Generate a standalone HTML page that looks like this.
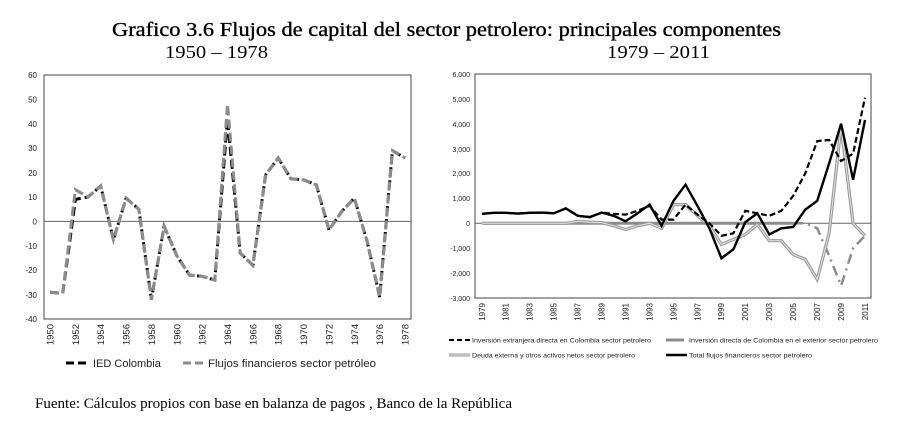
<!DOCTYPE html>
<html><head><meta charset="utf-8"><style>
body{margin:0;background:#fff;width:901px;height:431px;overflow:hidden}
svg{display:block}
.t{font-family:"Liberation Serif",serif}
.s{font-family:"Liberation Sans",sans-serif;fill:#222}
</style></head><body>
<svg width="901" height="431" viewBox="0 0 901 431">
<text class="t" x="112" y="36" font-size="20" textLength="669" lengthAdjust="spacingAndGlyphs" stroke="#000" stroke-width="0.35">Grafico 3.6 Flujos de capital del sector petrolero: principales componentes</text>
<text class="t" x="165" y="58" font-size="18" textLength="103" lengthAdjust="spacingAndGlyphs">1950 – 1978</text>
<text class="t" x="607" y="58" font-size="18" textLength="103" lengthAdjust="spacingAndGlyphs">1979 – 2011</text>

<!-- LEFT CHART -->
<rect x="44" y="75" width="367" height="244" fill="none" stroke="#444" stroke-width="1"/>
<line x1="44" y1="221.4" x2="411" y2="221.4" stroke="#666" stroke-width="1"/>
<g class="s" font-size="8" text-anchor="end">
<text x="37" y="78">60</text><text x="37" y="102.5">50</text><text x="37" y="127">40</text><text x="37" y="151">30</text><text x="37" y="176">20</text><text x="37" y="200">10</text><text x="37" y="224.5">0</text><text x="37" y="249">-10</text><text x="37" y="273">-20</text><text x="37" y="298">-30</text><text x="37" y="322">-40</text>
</g>
<g class="s" font-size="9.5" text-anchor="end">
<text transform="translate(53.5,324) rotate(-90)">1950</text>
<text transform="translate(78.9,324) rotate(-90)">1952</text>
<text transform="translate(104.2,324) rotate(-90)">1954</text>
<text transform="translate(129.6,324) rotate(-90)">1956</text>
<text transform="translate(154.9,324) rotate(-90)">1958</text>
<text transform="translate(180.3,324) rotate(-90)">1960</text>
<text transform="translate(205.7,324) rotate(-90)">1962</text>
<text transform="translate(231,324) rotate(-90)">1964</text>
<text transform="translate(256.4,324) rotate(-90)">1966</text>
<text transform="translate(281.7,324) rotate(-90)">1968</text>
<text transform="translate(307.1,324) rotate(-90)">1970</text>
<text transform="translate(332.5,324) rotate(-90)">1972</text>
<text transform="translate(357.8,324) rotate(-90)">1974</text>
<text transform="translate(383.2,324) rotate(-90)">1976</text>
<text transform="translate(408.5,324) rotate(-90)">1978</text>
</g>
<polyline fill="none" stroke="#000" stroke-width="3" stroke-dasharray="9,4" points="50,292.2 62.7,293.4 75.4,199.4 88,197 100.7,186 113.4,239.7 126.1,198.2 138.8,209.2 151.4,299.5 164.1,226.3 176.8,255.6 189.5,275.1 202.2,276.3 214.8,280 227.5,118.9 240.2,253.1 252.9,265.3 265.6,175 278.2,158 290.9,178.7 303.6,179.9 316.3,184.8 329,229.9 341.6,211.6 354.3,198.2 367,240.9 379.7,297 392.4,150.6 405,158"/>
<polyline fill="none" stroke="#8c8c8c" stroke-width="3" stroke-dasharray="9,4" points="50,292.2 62.7,293.4 75.4,189.7 88,197 100.7,186 113.4,239.7 126.1,198.2 138.8,209.2 151.4,299.5 164.1,226.3 176.8,255.6 189.5,275.1 202.2,276.3 214.8,280 227.5,104.3 240.2,253.1 252.9,265.3 265.6,175 278.2,158 290.9,178.7 303.6,179.9 316.3,184.8 329,229.9 341.6,211.6 354.3,198.2 367,240.9 379.7,297 392.4,150.6 405,158"/>
<line x1="66" y1="363" x2="90" y2="363" stroke="#000" stroke-width="3" stroke-dasharray="8,4"/>
<text class="s" x="93" y="367" font-size="11">IED Colombia</text>
<line x1="183" y1="363" x2="207" y2="363" stroke="#8c8c8c" stroke-width="3" stroke-dasharray="8,4"/>
<text class="s" x="208" y="367" font-size="11" textLength="168" lengthAdjust="spacingAndGlyphs">Flujos financieros sector petróleo</text>

<!-- RIGHT CHART -->
<rect x="475" y="74" width="396" height="224" fill="none" stroke="#444" stroke-width="1"/>
<line x1="475" y1="223.3" x2="871" y2="223.3" stroke="#666" stroke-width="1"/>
<g class="s" font-size="7" text-anchor="end">
<text x="470" y="77">6,000</text><text x="470" y="102">5,000</text><text x="470" y="127">4,000</text><text x="470" y="152">3,000</text><text x="470" y="176">2,000</text><text x="470" y="201">1,000</text><text x="470" y="226">0</text><text x="470" y="251">-1,000</text><text x="470" y="276">-2,000</text><text x="470" y="301">-3,000</text>
</g>
<g class="s" font-size="8" text-anchor="end">
<text transform="translate(484.8,303) rotate(-90)">1979</text>
<text transform="translate(508.7,303) rotate(-90)">1981</text>
<text transform="translate(532.7,303) rotate(-90)">1983</text>
<text transform="translate(556.6,303) rotate(-90)">1985</text>
<text transform="translate(580.6,303) rotate(-90)">1987</text>
<text transform="translate(604.5,303) rotate(-90)">1989</text>
<text transform="translate(628.4,303) rotate(-90)">1991</text>
<text transform="translate(652.4,303) rotate(-90)">1993</text>
<text transform="translate(676.3,303) rotate(-90)">1995</text>
<text transform="translate(700.3,303) rotate(-90)">1997</text>
<text transform="translate(724.2,303) rotate(-90)">1999</text>
<text transform="translate(748.1,303) rotate(-90)">2001</text>
<text transform="translate(772.1,303) rotate(-90)">2003</text>
<text transform="translate(796,303) rotate(-90)">2005</text>
<text transform="translate(820,303) rotate(-90)">2007</text>
<text transform="translate(843.9,303) rotate(-90)">2009</text>
<text transform="translate(867.8,303) rotate(-90)">2011</text>
</g>
<!-- exterior -->
<polyline fill="none" stroke="#8c8c8c" stroke-width="3" points="482,223.3 793.2,223.3"/>
<polyline fill="none" stroke="#8c8c8c" stroke-width="2.5" stroke-dasharray="10,5,2,5" points="793.2,223.3 805.2,223.3 817.2,228.3 829.1,255.7 841.1,285.6 853.1,248.2 865,235.8"/>
<!-- deuda double line -->
<polyline fill="none" stroke="#999" stroke-width="3.2" points="482,223.3 494,223.3 505.9,223.3 517.9,223.3 529.9,223.3 541.9,223.3 553.8,223.3 565.8,223.3 577.8,221.3 589.7,222.1 601.7,222.6 613.7,225.8 625.6,229.5 637.6,225.8 649.6,223.3 661.6,228.3 673.5,204.6 685.5,204.6 697.5,215.8 709.4,225.8 721.4,244.5 733.4,239.5 745.3,234.5 757.3,224.5 769.3,240.7 781.3,240.7 793.2,254.4 805.2,259.4 817.2,279.3 829.1,233.3 841.1,126.2 853.1,223.3 865,235.8"/>
<polyline fill="none" stroke="#e4e4e4" stroke-width="1" points="482,223.3 494,223.3 505.9,223.3 517.9,223.3 529.9,223.3 541.9,223.3 553.8,223.3 565.8,223.3 577.8,221.3 589.7,222.1 601.7,222.6 613.7,225.8 625.6,229.5 637.6,225.8 649.6,223.3 661.6,228.3 673.5,204.6 685.5,204.6 697.5,215.8 709.4,225.8 721.4,244.5 733.4,239.5 745.3,234.5 757.3,224.5 769.3,240.7 781.3,240.7 793.2,254.4 805.2,259.4 817.2,279.3 829.1,233.3 841.1,126.2 853.1,223.3 865,235.8"/>
<!-- IED dashed -->
<polyline fill="none" stroke="#000" stroke-width="2.2" stroke-dasharray="6,3" points="482,213.8 494,212.8 505.9,212.8 517.9,213.6 529.9,212.8 541.9,212.6 553.8,213.3 565.8,208.4 577.8,215.8 589.7,217.1 601.7,212.6 613.7,213.8 625.6,214.6 637.6,210.8 649.6,205.9 661.6,219.6 673.5,219.6 685.5,204.6 697.5,214.6 709.4,223.3 721.4,235.8 733.4,233.3 745.3,210.8 757.3,213.3 769.3,215.8 781.3,210.8 793.2,195.9 805.2,173.5 817.2,141.1 829.1,139.9 841.1,161 853.1,153.6 865,97.6"/>
<!-- total -->
<polyline fill="none" stroke="#000" stroke-width="2.4" points="482,213.8 494,212.8 505.9,212.8 517.9,213.6 529.9,212.8 541.9,212.6 553.8,213.3 565.8,208.4 577.8,215.8 589.7,217.1 601.7,212.6 613.7,215.8 625.6,221.3 637.6,213.3 649.6,204.6 661.6,225.8 673.5,200.9 685.5,184.7 697.5,205.9 709.4,228.3 721.4,258.2 733.4,249.4 745.3,222.1 757.3,213.3 769.3,234.5 781.3,228.3 793.2,227 805.2,209.6 817.2,200.9 829.1,163.5 841.1,123.7 853.1,179.7 865,120"/>
<!-- legend -->
<line x1="449" y1="340" x2="470" y2="340" stroke="#000" stroke-width="2" stroke-dasharray="5,3"/>
<text class="s" x="472" y="342.5" font-size="6.8" textLength="179" lengthAdjust="spacingAndGlyphs">Inversión extranjera directa en Colombia  sector petrolero</text>
<line x1="666" y1="340" x2="684" y2="340" stroke="#8c8c8c" stroke-width="3"/>
<text class="s" x="689" y="342.5" font-size="6.8" textLength="189" lengthAdjust="spacingAndGlyphs">Inversión directa de Colombia  en el exterior sector petrolero</text>
<line x1="449" y1="355" x2="470" y2="355" stroke="#999" stroke-width="3"/>
<line x1="449" y1="355" x2="470" y2="355" stroke="#e4e4e4" stroke-width="1"/>
<text class="s" x="472" y="357.5" font-size="6.8" textLength="163" lengthAdjust="spacingAndGlyphs">Deuda externa y otros activos netos sector petrolero</text>
<line x1="666" y1="355" x2="687" y2="355" stroke="#000" stroke-width="2.4"/>
<text class="s" x="689" y="357.5" font-size="6.8" textLength="123" lengthAdjust="spacingAndGlyphs">Total flujos financieros sector petrolero</text>

<text class="t" x="35" y="408" font-size="14.5" textLength="477" lengthAdjust="spacingAndGlyphs">Fuente: Cálculos propios con base en balanza de pagos , Banco de la República</text>
</svg>
</body></html>
